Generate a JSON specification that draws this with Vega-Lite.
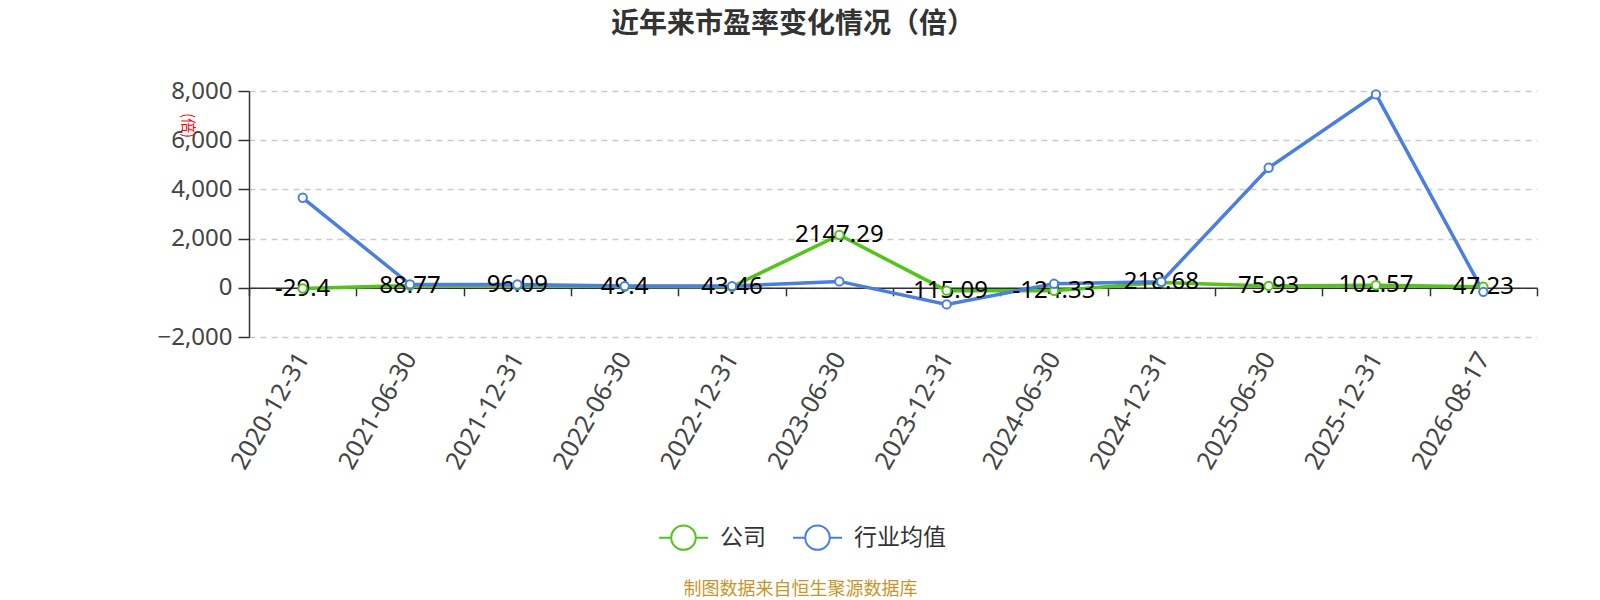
{
  "$schema": "https://vega.github.io/schema/vega-lite/v6.json",
  "width": 1288,
  "height": 246,
  "autosize": {"type": "none"},
  "padding": {"left": 249, "top": 91, "right": 63, "bottom": 263},
  "background": "white",
  "config": {"view": {"stroke": null}},
  "title": {
    "text": "近年来市盈率变化情况（倍）",
    "anchor": "middle",
    "frame": "group",
    "dx": -100,
    "offset": 40,
    "fontSize": 28,
    "fontWeight": "bold",
    "font": "Noto Sans CJK SC",
    "color": "#333333"
  },
  "data": {
    "values": [
      {"date": "2020-12-31", "series": "公司", "value": -29.4},
      {"date": "2021-06-30", "series": "公司", "value": 88.77},
      {"date": "2021-12-31", "series": "公司", "value": 96.09},
      {"date": "2022-06-30", "series": "公司", "value": 49.4},
      {"date": "2022-12-31", "series": "公司", "value": 43.46},
      {"date": "2023-06-30", "series": "公司", "value": 2147.29},
      {"date": "2023-12-31", "series": "公司", "value": -115.09},
      {"date": "2024-06-30", "series": "公司", "value": -124.33},
      {"date": "2024-12-31", "series": "公司", "value": 218.68},
      {"date": "2025-06-30", "series": "公司", "value": 75.93},
      {"date": "2025-12-31", "series": "公司", "value": 102.57},
      {"date": "2026-08-17", "series": "公司", "value": 47.23},
      {"date": "2020-12-31", "series": "行业均值", "value": 3660},
      {"date": "2021-06-30", "series": "行业均值", "value": 140},
      {"date": "2021-12-31", "series": "行业均值", "value": 135},
      {"date": "2022-06-30", "series": "行业均值", "value": 70},
      {"date": "2022-12-31", "series": "行业均值", "value": 70},
      {"date": "2023-06-30", "series": "行业均值", "value": 260},
      {"date": "2023-12-31", "series": "行业均值", "value": -675},
      {"date": "2024-06-30", "series": "行业均值", "value": 163},
      {"date": "2024-12-31", "series": "行业均值", "value": 245},
      {"date": "2025-06-30", "series": "行业均值", "value": 4878},
      {"date": "2025-12-31", "series": "行业均值", "value": 7862},
      {"date": "2026-08-17", "series": "行业均值", "value": -163}
    ]
  },
  "encoding": {
    "x": {
      "field": "date",
      "type": "nominal",
      "bandPosition": 0.5,
      "scale": {"type": "band", "paddingInner": 0, "paddingOuter": 0},
      "axis": {
        "title": "制图数据来自恒生聚源数据库",
        "titleColor": "#c8952c",
        "titleFontSize": 18,
        "titleFont": "Noto Sans CJK SC",
        "titleFontWeight": "normal",
        "titleX": 551,
        "titleY": 302,
        "titleAlign": "center",
        "titleBaseline": "middle",
        "titleAngle": 0,
        "offset": -49.2,
        "domainColor": "#333333",
        "domainWidth": 1.5,
        "tickColor": "#333333",
        "tickSize": 8,
        "tickWidth": 1.5,
        "tickBand": "extent",
        "labelAngle": -60,
        "labelAlign": "right",
        "labelBaseline": "middle",
        "labelPadding": 58,
        "labelFontSize": 25,
        "labelFont": "Noto Sans",
        "labelColor": "#444444",
        "labelOverlap": false,
        "labelFlush": false,
        "grid": false
      }
    },
    "y": {
      "field": "value",
      "type": "quantitative",
      "scale": {"domain": [-2000, 8000], "nice": false, "zero": false},
      "axis": {
        "values": [-2000, 0, 2000, 4000, 6000, 8000],
        "format": ",.0f",
        "title": "(倍)",
        "titleColor": "#ff0000",
        "titleFontSize": 15,
        "titleFont": "Noto Sans CJK SC",
        "titleFontWeight": "normal",
        "titleAngle": 90,
        "titleX": -62,
        "titleY": 34,
        "titleAlign": "center",
        "titleBaseline": "middle",
        "domainColor": "#333333",
        "domainWidth": 1.5,
        "tickColor": "#333333",
        "tickSize": 11,
        "tickWidth": 1.5,
        "labelPadding": 6,
        "labelFontSize": 24,
        "labelFont": "Noto Sans",
        "labelColor": "#444444",
        "grid": true,
        "gridColor": "#cccccc",
        "gridDash": [6, 5],
        "gridWidth": 1.5
      }
    }
  },
  "layer": [
    {
      "mark": {"type": "line", "strokeWidth": 3.5},
      "encoding": {
        "color": {
          "field": "series",
          "type": "nominal",
          "scale": {"domain": ["公司", "行业均值"], "range": ["#52c41a", "#4a7fdf"]},
          "legend": {
            "title": null,
            "orient": "none",
            "legendX": 409,
            "legendY": 421,
            "direction": "horizontal",
            "symbolType": "M-1,0L-0.5,0M0.5,0L1,0M-0.5,0A0.5,0.5,0,1,0,0.5,0A0.5,0.5,0,1,0,-0.5,0",
            "symbolSize": 2400,
            "symbolStrokeWidth": 2,
            "symbolFillColor": "white",
            "labelFontSize": 23,
            "labelFont": "Noto Sans CJK SC",
            "labelColor": "#333333",
            "labelOffset": 11,
            "columnPadding": 23,
            "padding": 0
          }
        }
      }
    },
    {
      "transform": [{"filter": "datum.series === '公司'"}],
      "mark": {"type": "text", "fontSize": 24, "font": "Noto Sans", "baseline": "alphabetic", "dy": 7, "color": "#000000"},
      "encoding": {
        "text": {"field": "value", "type": "nominal"}
      }
    },
    {
      "mark": {"type": "point", "shape": "circle", "filled": true, "fill": "white", "size": 70, "strokeWidth": 2, "opacity": 1},
      "encoding": {
        "stroke": {
          "field": "series",
          "type": "nominal",
          "scale": {"domain": ["公司", "行业均值"], "range": ["#52c41a", "#4a7fdf"]},
          "legend": null
        }
      }
    }
  ]
}
